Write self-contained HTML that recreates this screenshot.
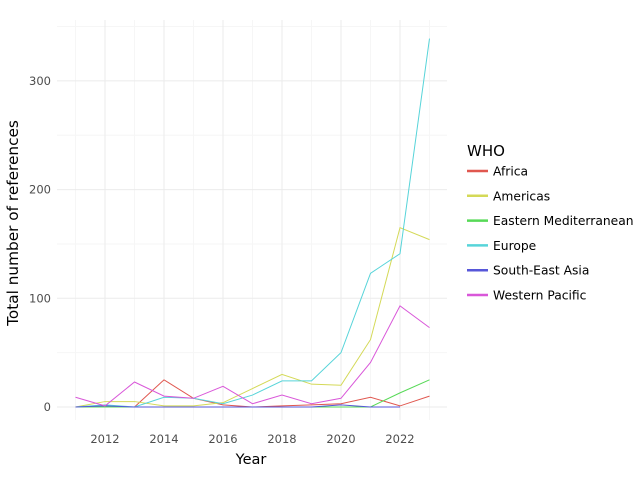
<!DOCTYPE html>
<html><head><meta charset="utf-8"><style>
body{margin:0;background:#fff;}
svg{font-family:"DejaVu Sans","Liberation Sans",sans-serif;}
</style></head><body>
<svg id="chart" width="640" height="480">
<g id="grid"></g><g id="series"></g><g id="axes"></g><g id="legend"></g>
<text x="251" y="464" font-size="14.5" text-anchor="middle" fill="#000">Year</text>
<text transform="translate(18,223) rotate(-90)" font-size="15.3" text-anchor="middle" fill="#000">Total number of references</text>
<text x="467" y="156" font-size="15" fill="#000">WHO</text>
</svg>
<script>
const years=[2011,2012,2013,2014,2015,2016,2017,2018,2019,2020,2021,2022,2023];
const seriesNames=["Africa","Americas","Eastern Mediterranean","Europe","South-East Asia","Western Pacific"];
const africa=[0,0,0,25,8,2,0,1,2,3,9,1,10];
const americas=[0,5,5,1,1,4,17,30,21,20,62,165,154];
const easternMed=[0,0,0,0,0,0,0,0,0,0,0,13,25];
const europe=[0,2,0,9,8,3,11,24,24,50,123,141,339];
const southEastAsia=[0,1,0,0,0,0,0,0,0,2,0,0,null];
const westernPacific=[9,1,23,10,8,19,3,11,3,8,41,93,73];
const xTicks=[2012,2014,2016,2018,2020,2022];
const yTicks=[0,100,200,300];
const colors=["#e0574f","#d4d957","#57d957","#57d4d9","#5757d9","#d957d9"];
const allSeries=[africa,americas,easternMed,europe,southEastAsia,westernPacific];
const NS="http://www.w3.org/2000/svg";
const xs=y=>75.5+(y-2011)*29.5;
const ys=v=>407-v*1.087;
const L=57,R=447,T=20,B=420;
function mk(tag,attrs,parent){const e=document.createElementNS(NS,tag);for(const k in attrs)e.setAttribute(k,attrs[k]);parent.appendChild(e);return e;}
const grid=document.getElementById('grid'),axes=document.getElementById('axes'),ser=document.getElementById('series'),leg=document.getElementById('legend');
for(let y=2011;y<=2023;y+=2){const l=mk('line',{x1:xs(y),x2:xs(y),y1:T,y2:B,stroke:'#f6f6f6','stroke-width':1},grid);

}
for(let v=50;v<=350;v+=100){const l=mk('line',{x1:L,x2:R,y1:ys(v),y2:ys(v),stroke:'#f6f6f6','stroke-width':1},grid);

}
xTicks.forEach(t=>{const l=mk('line',{x1:xs(t),x2:xs(t),y1:T,y2:B,stroke:'#ebebeb','stroke-width':1},grid);


const tx=mk('text',{x:xs(t),y:443,'font-size':11.5,'text-anchor':'middle',fill:'#4d4d4d'},axes);tx.textContent=t;

});
yTicks.forEach(t=>{const l=mk('line',{x1:L,x2:R,y1:ys(t),y2:ys(t),stroke:'#ebebeb','stroke-width':1},grid);


const tx=mk('text',{x:51,y:ys(t)+4,'font-size':11.5,'text-anchor':'end',fill:'#4d4d4d'},axes);tx.textContent=t;

});
allSeries.forEach((s,i)=>{let d='',pen=false;s.forEach((v,j)=>{if(v==null){pen=false;return;}d+=(pen?'L':'M')+xs(years[j])+','+ys(v);pen=true;});
const p=mk('path',{d:d,fill:'none',stroke:colors[i],'stroke-width':1},ser);


const ly=171+i*24.8;
const g=mk('g',{},leg);


mk('line',{x1:467,x2:488,y1:ly,y2:ly,stroke:colors[i],'stroke-width':2.5},g);
const tx=mk('text',{x:493,y:ly+4.5,'font-size':12.3,fill:'#000'},g);tx.textContent=seriesNames[i];});
</script>
</body></html>
